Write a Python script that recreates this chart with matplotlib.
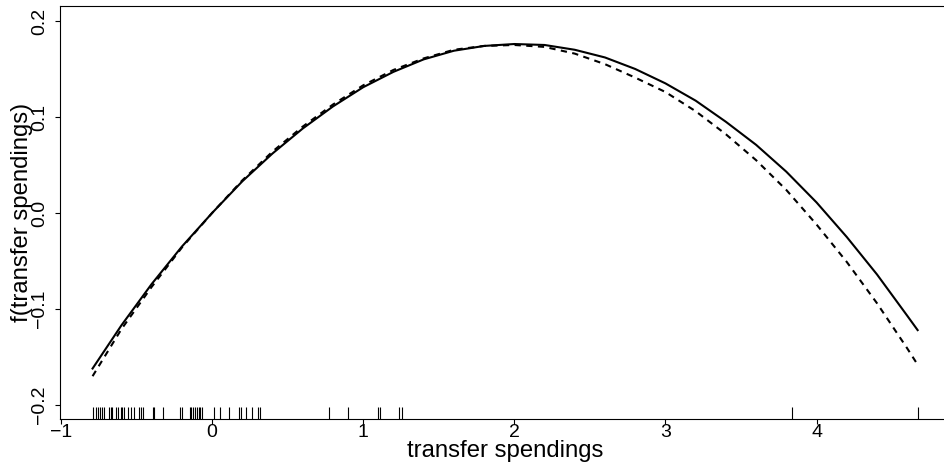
import numpy as np
import matplotlib
matplotlib.use("Agg")
import matplotlib.pyplot as plt

plt.rcParams['font.family'] = ['Liberation Sans', 'DejaVu Sans']

# fitted smooth term (solid) and comparison fit (dashed)
x_grid = [-0.791, -0.6, -0.4, -0.2, 0.0, 0.2, 0.4, 0.6, 0.8, 1.0, 1.2, 1.4,
          1.6, 1.8, 2.0, 2.2, 2.4, 2.6, 2.8, 3.0, 3.2, 3.4, 3.6, 3.8, 4.0,
          4.2, 4.4, 4.6, 4.669]
f_solid = [-0.162, -0.117, -0.074, -0.035, 0.000, 0.033, 0.062, 0.088, 0.111,
           0.131, 0.147, 0.160, 0.169, 0.174, 0.176, 0.175, 0.170, 0.162,
           0.150, 0.135, 0.117, 0.095, 0.071, 0.043, 0.011, -0.025, -0.064,
           -0.107, -0.122]
f_dashed = [-0.170, -0.121, -0.077, -0.036, 0.000, 0.034, 0.064, 0.090, 0.113,
            0.133, 0.149, 0.161, 0.170, 0.174, 0.175, 0.173, 0.166, 0.155,
            0.141, 0.126, 0.106, 0.082, 0.055, 0.024, -0.012, -0.051, -0.094,
            -0.141, -0.158]

# observed transfer spendings (rug)
rug_x = [-0.791, -0.766, -0.754, -0.743, -0.729, -0.716, -0.680, -0.670,
         -0.660, -0.637, -0.624, -0.604, -0.594, -0.580, -0.554, -0.537,
         -0.517, -0.484, -0.471, -0.458, -0.394, -0.385, -0.324, -0.213,
         -0.200, -0.147, -0.137, -0.127, -0.114, -0.101, -0.085, -0.077,
         -0.064, 0.012, 0.055, 0.111, 0.177, 0.191, 0.224, 0.267, 0.306,
         0.320, 0.775, 0.897, 1.095, 1.111, 1.238, 1.254, 3.835, 4.669]

x_ticks = [-1, 0, 1, 2, 3, 4]
y_ticks = [-0.2, -0.1, 0.0, 0.1, 0.2]

fig = plt.figure(figsize=(9.45, 4.65), dpi=100)
ax = fig.add_axes([0.0631, 0.0989, 0.9428, 0.8882])

ax.plot(x_grid, f_solid, color='black', lw=1.5, solid_joinstyle='round')
ax.plot(x_grid, f_dashed, color='black', lw=1.5, dashes=(3, 2.6))
ax.vlines(rug_x, 0, 0.029, transform=ax.get_xaxis_transform(),
          color='black', lw=0.8)

ax.set_xlim(-1.009, 4.887)
ax.set_ylim(-0.2146, 0.2156)

ax.set_xticks(x_ticks)
ax.set_xticklabels([str(t) if t >= 0 else '\u2212' + str(-t) for t in x_ticks])
ax.set_yticks(y_ticks)
ax.set_yticklabels(['\u22120.2', '\u22120.1', '0.0', '0.1', '0.2'],
                   rotation=90, va='center')

ax.tick_params(axis='both', direction='out', length=3.5, width=0.8,
               labelsize=14, color='black')
ax.tick_params(axis='x', pad=0)
ax.tick_params(axis='y', pad=5)

# box runs past the right edge of the figure, so no right spine shows
ax.spines['right'].set_visible(False)
for s in ax.spines.values():
    s.set_linewidth(0.8)

ax.set_xlabel('transfer spendings', fontsize=17.2)
ax.xaxis.set_label_coords(0.5, -0.052)
ax.set_ylabel('f(transfer spendings)', fontsize=17.2)
ax.yaxis.set_label_coords(-0.030, 0.5)

fig.savefig('out.png', dpi=100)
